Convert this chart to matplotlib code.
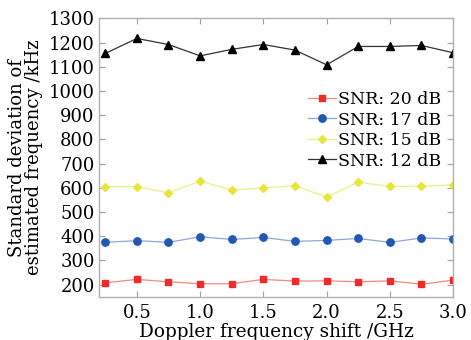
import numpy as np
import matplotlib.pyplot as plt

plt.rcParams['font.family'] = ['DejaVu Serif']
plt.rcParams['mathtext.fontset'] = 'dejavuserif'

# Doppler shift (GHz)
shift = [0.25, 0.5, 0.75, 1.0, 1.25, 1.5, 1.75, 2.0, 2.25, 2.5, 2.75, 3.0]

# standard deviation (kHz) per SNR
std_20 = [208, 222, 212, 204, 204, 222, 215, 216, 212, 216, 202, 219]
std_17 = [375, 382, 375, 398, 387, 395, 379, 383, 391, 375, 393, 389]
std_15 = [605, 605, 579, 628, 591, 599, 609, 562, 623, 606, 607, 612]
std_12 = [1155, 1217, 1192, 1145, 1172, 1192, 1169, 1108, 1184, 1184, 1188, 1158]

labels = ['SNR: 20 dB', 'SNR: 17 dB', 'SNR: 15 dB', 'SNR: 12 dB']

fig = plt.figure(figsize=(4.71, 3.40), dpi=100)
ax = fig.add_axes([0.210, 0.127, 0.752, 0.819])

ax.plot(shift, std_20, '-', color='#f48a80', lw=0.9, marker='s', ms=4.3,
        mfc='#ee2a2a', mec='#ee2a2a', label=labels[0])
ax.plot(shift, std_17, '-', color='#8fa6dc', lw=0.9, marker='o', ms=5.3,
        mfc='#2457b0', mec='#2457b0', label=labels[1])
ax.plot(shift, std_15, '-', color='#eeee88', lw=0.9, marker='D', ms=4.3,
        mfc='#e6e63a', mec='#e6e63a', label=labels[2])
ax.plot(shift, std_12, '-', color='#333333', lw=0.9, marker='^', ms=5.8,
        mfc='black', mec='black', label=labels[3])

ax.set_xlim(0.2, 3.0)
ax.set_ylim(150, 1300)
ax.set_xticks([0.5, 1.0, 1.5, 2.0, 2.5, 3.0])
ax.set_xticklabels(['0.5', '1.0', '1.5', '2.0', '2.5', '3.0'])
ax.set_yticks(np.arange(200, 1301, 100))

for s in ax.spines.values():
    s.set_color('#b0b0b0')
    s.set_linewidth(1.0)
ax.tick_params(direction='in', top=True, right=True, color='#a0a0a0',
               labelsize=13, length=4)
ax.tick_params(axis='x', pad=5)
ax.tick_params(axis='y', pad=3)

ax.set_xlabel('Doppler frequency shift /GHz', fontsize=13.3, labelpad=1)
ax.set_ylabel('Standard deviation of\nestimated frequency /kHz', fontsize=13,
              linespacing=0.95, labelpad=4)

ax.legend(loc='upper right', bbox_to_anchor=(0.99, 0.77), frameon=False,
          fontsize=12.5, handlelength=1.6, handletextpad=0.1,
          labelspacing=0.2, borderpad=0.0)

fig.savefig('out.png', dpi=100)
